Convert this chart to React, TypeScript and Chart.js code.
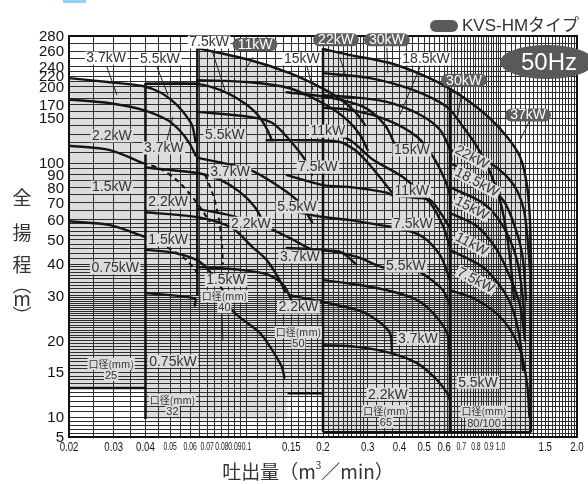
import React, { useEffect, useRef } from 'react';
import { Chart, registerables } from 'chart.js';

Chart.register(...registerables);

// ---------- axis labels ----------
const xTickValues = [0.02, 0.03, 0.04, 0.05, 0.06, 0.07, 0.08, 0.09, 0.1, 0.15, 0.2, 0.3, 0.4, 0.5, 0.6, 0.7, 0.8, 0.9, 1.0, 1.5, 2.0];
const xTickTexts = ['0.02', '0.03', '0.04', '0.05', '0.06', '0.07', '0.08', '0.09', '0.1', '0.15', '0.2', '0.3', '0.4', '0.5', '0.6', '0.7', '0.8', '0.9', '1.0', '1.5', '2.0'];
const xTickSmall = [false, false, false, true, true, true, true, true, true, false, false, false, false, false, false, true, true, true, true, false, false];
const yTickValues = [280, 260, 240, 220, 200, 170, 150, 100, 90, 80, 70, 60, 50, 40, 30, 20, 15, 10, 5];

// ---------- curves (吐出量 m3/min, 全揚程 m) ----------
// 口径25mm
const c25_37 = [[0.02, 216], [0.029, 208], [0.039, 201], [0.0456, 190], [0.0513, 175], [0.056, 160], [0.061, 141], [0.063, 121]];
const c25_22 = [[0.02, 178], [0.029, 172], [0.039, 162], [0.0486, 148], [0.0547, 134], [0.0598, 119], [0.063, 107]];
const c25_15 = [[0.02, 117], [0.029, 112.5], [0.039, 100]];
const c25_15ext = [[0.039, 100], [0.0456, 95], [0.0536, 85], [0.0626, 71.5], [0.0718, 58.6]];
const c25_075 = [[0.02, 59], [0.029, 57], [0.039, 51.6]];
const c25_075ext = [[0.039, 51.6], [0.0477, 47], [0.0572, 42], [0.0656, 36]];
const limitDashed = [[0.0686, 90], [0.0738, 75], [0.0779, 60], [0.08, 47.6], [0.0807, 39.7]];
// 口径32mm
const c32_55 = [[0.04, 205], [0.064, 205], [0.0786, 194], [0.094, 177], [0.108, 159], [0.118, 141], [0.126, 123]];
const c32_37 = [[0.04, 96], [0.0656, 91], [0.0786, 86], [0.094, 77], [0.108, 67], [0.118, 57]];
const c32_22 = [[0.04, 64], [0.0656, 61], [0.0876, 55.5], [0.1055, 46.7], [0.12, 41.5], [0.135, 34.6], [0.142, 31]];
const c32_15 = [[0.04, 45.5], [0.052, 44.3], [0.0656, 40.8], [0.0786, 33], [0.0876, 26.4], [0.113, 21.4], [0.126, 18.4], [0.1375, 15.8], [0.141, 14.3]];
const c32_075 = [[0.04, 30.8], [0.0626, 29.3], [0.0626, 27.5]];
// 口径40mm
const c40_11 = [[0.064, 264], [0.103, 248.5], [0.148, 226], [0.195, 199], [0.233, 179], [0.268, 159], [0.293, 141]];
const c40_75 = [[0.064, 212], [0.103, 208], [0.148, 197], [0.2, 172], [0.245, 150], [0.28, 129], [0.3, 112.5]];
const c40_55 = [[0.064, 159], [0.103, 152], [0.126, 144], [0.148, 123], [0.17, 103], [0.181, 90]];
const c40_37 = [[0.064, 105], [0.103, 94], [0.135, 80.4], [0.162, 69.6], [0.181, 58.6]];
const c40_22 = [[0.064, 66], [0.0876, 62], [0.12, 56], [0.152, 50], [0.183, 45.5], [0.233, 44.8], [0.27, 40]];
const c40_15 = [[0.064, 39], [0.094, 38], [0.12, 36.5], [0.14, 33], [0.15, 29]];
// 口径50mm
const c50_15 = [[0.144, 190], [0.213, 181], [0.29, 166], [0.351, 141], [0.384, 118]];
const c50_11 = [[0.12, 123], [0.172, 123], [0.233, 121], [0.267, 112.5], [0.293, 103], [0.335, 88], [0.374, 76.5]];
const c50_75 = [[0.144, 89.7], [0.2, 81.9], [0.256, 80.4], [0.357, 76.5], [0.374, 74.8], [0.46, 73], [0.528, 71.5], [0.578, 64], [0.632, 55.5]];
const c50_55 = [[0.144, 65.3], [0.2, 61.3], [0.256, 59.6], [0.335, 57], [0.374, 56], [0.482, 52], [0.578, 43.4], [0.632, 34.6]];
const c50_37 = [[0.144, 46.3], [0.2, 45.5], [0.272, 42.7], [0.344, 38.9], [0.47, 37.5], [0.528, 35], [0.594, 31.5], [0.632, 27.6]];
const c50_22 = [[0.148, 30.2], [0.272, 26.4], [0.325, 24.1], [0.367, 21.4], [0.374, 17.9]];
// 口径65mm
const c65_a = [[0.2, 135], [0.256, 123], [0.315, 103], [0.413, 88], [0.528, 69.6], [0.594, 56.4], [0.632, 46.7]];
const c65_b = [[0.2, 185], [0.256, 182], [0.357, 174], [0.482, 155], [0.578, 135], [0.632, 112.5], [0.64, 103]];
const c65_c = [[0.2, 165], [0.256, 162], [0.357, 148], [0.469, 127], [0.542, 106], [0.604, 86], [0.632, 75]];
const c65_37 = [[0.2, 34.6], [0.28, 33.1], [0.384, 31], [0.469, 28.9], [0.542, 25.7], [0.616, 21.4], [0.632, 17.3]];
const c65_22 = [[0.2, 19.2], [0.272, 18.9], [0.367, 17.9], [0.469, 16.3], [0.562, 14], [0.616, 12.4], [0.632, 11.7]];
// 口径80/100mm
const c100_37 = [[0.2, 263], [0.256, 255], [0.367, 244.6], [0.495, 222], [0.616, 199], [0.758, 174], [0.909, 150], [1.06, 127], [1.193, 106], [1.271, 82], [1.306, 60], [1.318, 41.5]];
const c100_30 = [[0.2, 226], [0.306, 216], [0.452, 194], [0.616, 166], [0.712, 139], [0.808, 116], [0.909, 92], [0.995, 71.5], [1.06, 52], [1.109, 36], [1.13, 29]];
const c100_22 = [[0.632, 112.5], [0.758, 107.5], [0.909, 100], [1.041, 90], [1.161, 78], [1.237, 65], [1.271, 53], [1.306, 38]];
const c100_18 = [[0.632, 100], [0.808, 88], [1.023, 71.5], [1.161, 53], [1.226, 41.5], [1.259, 29]];
const c100_15 = [[0.632, 80.4], [0.853, 69.6], [1.023, 56.4], [1.161, 41.5], [1.226, 29], [1.248, 22]];
const c100_11 = [[0.632, 63.6], [0.808, 56.4], [0.968, 45.5], [1.089, 35.6], [1.193, 27.6], [1.248, 20]];
const c100_75 = [[0.632, 45.5], [0.853, 38.9], [1.023, 31.6], [1.12, 26.4], [1.193, 20.1], [1.226, 15.3]];
const c100_55 = [[0.632, 31.6], [0.808, 28.9], [1.023, 24.1], [1.193, 18.4], [1.271, 13.6], [1.3, 10]];

// ---------- region borders ----------
const b25Bottom = [[0.02, 13], [0.04, 13]];
const b32Top = [[0.04, 205], [0.064, 205]];
const b32Left = [[0.04, 205], [0.04, 9.5]];
const b40Left = [[0.064, 264], [0.064, 30]];
const b50Bottom = [[0.145, 12.4], [0.2, 12.4]];
const b65Left = [[0.2, 263], [0.2, 6.2]];
const bBottom = [[0.2, 6.2], [1.318, 6.2]];
const b100Left = [[0.632, 197], [0.632, 6.2]];
const b100Right = [[1.318, 41.5], [1.318, 6.2]];

// shaded operating envelope
const envQ = [0.02, 0.02, 0.029, 0.039, 0.04, 0.064, 0.064, 0.103, 0.148, 0.2, 0.2, 0.256, 0.367, 0.495, 0.616, 0.758, 0.909, 1.06, 1.193, 1.271, 1.306, 1.318, 1.318, 0.2, 0.2, 0.145, 0.145, 0.04, 0.04];
const envH = [13, 216, 208, 201, 205, 205, 264, 248.5, 226, 196, 263, 255, 244.6, 222, 199, 174, 150, 127, 106, 82, 60, 41.5, 6.2, 6.2, 12.4, 12.4, 9.5, 9.5, 13];

// ---------- leader lines ----------
const leaders = [
  [[0.0282, 239], [0.0309, 185]],
  [[0.0444, 239], [0.0491, 185]],
  [[0.0731, 261], [0.0822, 194]],
  [[0.106, 252], [0.0986, 232]],
  [[0.173, 240], [0.1826, 194]],
  [[0.233, 252], [0.249, 212]],
  [[0.357, 265], [0.36, 226]],
  [[0.482, 239], [0.402, 155]],
  [[0.711, 203], [0.674, 148]],
  [[1.306, 148], [1.193, 123]],
  [[0.0486, 123], [0.0513, 152]],
  [[0.08, 26], [0.0807, 20]],
];

// ---------- kW labels ----------
const kwText = ['3.7kW', '5.5kW', '7.5kW', '11kW', '15kW', '22kW', '30kW', '18.5kW', '30kW', '37kW',
  '2.2kW', '3.7kW', '5.5kW', '1.5kW', '2.2kW', '3.7kW', '1.5kW', '0.75kW', '5.5kW', '2.2kW', '3.7kW', '1.5kW', '2.2kW', '0.75kW',
  '7.5kW', '11kW', '15kW', '11kW', '7.5kW', '5.5kW', '3.7kW', '2.2kW', '5.5kW',
  '22kW', '18.5kW', '15kW', '11kW', '7.5kW'];
const kwQ = [0.028, 0.0456, 0.0712, 0.108, 0.165, 0.225, 0.357, 0.509, 0.718, 1.283,
  0.0295, 0.0473, 0.0822, 0.0295, 0.0491, 0.0861, 0.0491, 0.0304, 0.158, 0.104, 0.162, 0.083, 0.16, 0.0513,
  0.191, 0.209, 0.448, 0.448, 0.452, 0.424, 0.473, 0.36, 0.815,
  0.772, 0.808, 0.772, 0.772, 0.8];
const kwH = [251, 250, 272, 269, 250, 275, 275, 250, 212, 154.5,
  128, 114.6, 129, 80.4, 70.2, 92.2, 49.8, 38.6, 67.1, 58, 42.7, 34.6, 27.1, 16.6,
  96.5, 133.6, 112.5, 77.6, 57.5, 39.3, 20.4, 12.3, 13.7,
  105.6, 84.2, 66.5, 48, 34.6];
const kwKind = ['w', 'w', 'w', 'd', 'w', 'd', 'd', 'w', 'd', 'd',
  'g', 'g', 'g', 'g', 'g', 'g', 'g', 'g', 'g', 'g', 'g', 'g', 'g', 'g',
  'g', 'g', 'g', 'g', 'g', 'g', 'g', 'g', 'g',
  'r', 'r', 'r', 'r', 'r'];

// 口径 labels
const boreText = ['25', '32', '40', '50', '65', '80/100'];
const boreQ = [0.0293, 0.0511, 0.0818, 0.16, 0.354, 0.861];
const boreH = [16.2, 11.7, 29.9, 21.6, 10.56, 10.5];

// ---------- scale helpers ----------
function hpos(h: number) {
  if (h >= 240) return Math.log10(240) + (h - 240) * 0.003;
  if (h <= 10) return 1 - (10 - h) * 0.0157;
  return Math.log10(h);
}
function range(a: number, b: number, s: number) {
  const out: number[] = [];
  for (let v = a; v <= b + 1e-9; v += s) out.push(+v.toFixed(4));
  return out;
}
const xGrid = [...range(0.02, 0.1, 0.005), ...range(0.11, 0.3, 0.01), ...range(0.325, 0.6, 0.025), ...range(0.62, 1.0, 0.02), ...range(1.05, 2.0, 0.05)];
const yGrid = [...range(5, 10, 1), ...range(10.5, 30, 0.5), ...range(31, 40, 1), ...range(42, 60, 2), ...range(65, 100, 5), ...range(110, 280, 10)];

const SANS = '"Liberation Sans", Arial, sans-serif';
const CJK = '"Noto Sans CJK JP", "Noto Sans", sans-serif';
const GRAY = '#dcdcdc';

const solid = [c25_37, c25_22, c25_15, c25_075, c32_55, c32_37, c32_22, c32_15, c32_075,
  c40_11, c40_75, c40_55, c40_37, c40_22, c40_15,
  c50_15, c50_11, c50_75, c50_55, c50_37, c50_22,
  c65_a, c65_b, c65_c, c65_37, c65_22,
  c100_37, c100_30, c100_22, c100_18, c100_15, c100_11, c100_75, c100_55];
const dashed = [c25_15ext, c25_075ext, limitDashed];
const borders = [b25Bottom, b32Top, b32Left, b40Left, b50Bottom, b65Left, bBottom, b100Left, b100Right];

function toXY(pts: number[][]) {
  return pts.map(([q, h]) => ({ x: q, y: hpos(h) }));
}

function buildDatasets() {
  const ds: any[] = [];
  borders.forEach((p) => ds.push({ data: toXY(p), borderColor: '#111', borderWidth: 2.5, pointRadius: 0, tension: 0, fill: false }));
  leaders.forEach((p) => ds.push({ data: toXY(p), borderColor: '#222', borderWidth: 1, pointRadius: 0, tension: 0, fill: false }));
  dashed.forEach((p) => ds.push({ data: toXY(p), borderColor: '#151515', borderWidth: 2, borderDash: [5, 4], pointRadius: 0, tension: 0.3, fill: false }));
  solid.forEach((p) => ds.push({ data: toXY(p), borderColor: '#151515', borderWidth: 2.4, pointRadius: 0, tension: 0.3, fill: false, borderCapStyle: 'round' }));
  return ds;
}

function roundRect(ctx: CanvasRenderingContext2D, x: number, y: number, w: number, h: number, r: number) {
  ctx.beginPath();
  ctx.moveTo(x + r, y);
  ctx.lineTo(x + w - r, y);
  ctx.arc(x + w - r, y + r, r, -Math.PI / 2, 0);
  ctx.lineTo(x + w, y + h - r);
  ctx.arc(x + w - r, y + h - r, r, 0, Math.PI / 2);
  ctx.lineTo(x + r, y + h);
  ctx.arc(x + r, y + h - r, r, Math.PI / 2, Math.PI);
  ctx.lineTo(x, y + r);
  ctx.arc(x + r, y + r, r, Math.PI, Math.PI * 1.5);
  ctx.closePath();
}

const regionPlugin = {
  id: 'regionFill',
  beforeDraw(chart: any) {
    const { ctx } = chart;
    const xs = chart.scales.x, ys = chart.scales.y;
    ctx.save();
    ctx.beginPath();
    envQ.forEach((q, i) => {
      const px = xs.getPixelForValue(q), py = ys.getPixelForValue(hpos(envH[i]));
      if (i === 0) ctx.moveTo(px, py); else ctx.lineTo(px, py);
    });
    ctx.closePath();
    ctx.fillStyle = GRAY;
    ctx.fill();
    ctx.restore();
  },
  beforeDatasetsDraw(chart: any) {
    const { ctx, chartArea: a } = chart;
    ctx.save();
    ctx.strokeStyle = '#111';
    ctx.lineWidth = 2;
    ctx.strokeRect(a.left, a.top, a.right - a.left, a.bottom - a.top);
    ctx.restore();
  },
};

const annotPlugin = {
  id: 'annot',
  afterDraw(chart: any) {
    const { ctx, chartArea: a } = chart;
    const xs = chart.scales.x, ys = chart.scales.y;
    ctx.save();
    // title remnant
    ctx.fillStyle = '#8fd4f2';
    ctx.fillRect(63, 0, 23, 3);

    // y ticks
    ctx.fillStyle = '#111';
    ctx.font = `15px ${SANS}`;
    ctx.textAlign = 'right';
    ctx.textBaseline = 'middle';
    yTickValues.forEach((v) => {
      ctx.fillText(String(v), 64, ys.getPixelForValue(hpos(v)) + 1);
    });
    // x ticks
    xTickValues.forEach((v, i) => {
      const px = xs.getPixelForValue(v);
      ctx.save();
      ctx.translate(px, a.bottom + 10);
      if (xTickSmall[i]) { ctx.scale(0.62, 1); ctx.font = `11px ${SANS}`; }
      else { ctx.scale(0.74, 1); ctx.font = `13px ${SANS}`; }
      ctx.textAlign = 'center';
      ctx.textBaseline = 'middle';
      ctx.fillStyle = '#111';
      ctx.fillText(xTickTexts[i], 0, 0);
      ctx.restore();
    });

    // axis titles
    ctx.fillStyle = '#333';
    ctx.font = `19px ${CJK}`;
    ctx.textAlign = 'center';
    ctx.textBaseline = 'middle';
    const yChars = ['全', '揚', '程', '︵', 'm', '︶'];
    const yPos = [198, 233, 265, 285, 299, 316];
    yChars.forEach((c, i) => ctx.fillText(c, 22, yPos[i]));

    const p1 = '吐出量（m', p2 = '3', p3 = '／min）';
    ctx.font = `19px ${CJK}`;
    const w1 = ctx.measureText(p1).width;
    const w3 = ctx.measureText(p3).width;
    ctx.font = `10px ${CJK}`;
    const w2 = ctx.measureText(p2).width;
    let sx = 308 - (w1 + w2 + w3) / 2;
    ctx.textAlign = 'left';
    ctx.font = `19px ${CJK}`;
    ctx.fillText(p1, sx, 472);
    ctx.font = `10px ${CJK}`;
    ctx.fillText(p2, sx + w1, 465);
    ctx.font = `19px ${CJK}`;
    ctx.fillText(p3, sx + w1 + w2, 472);

    // kW labels
    kwText.forEach((t, i) => {
      const cx = xs.getPixelForValue(kwQ[i]);
      const cy = ys.getPixelForValue(hpos(kwH[i]));
      const k = kwKind[i];
      ctx.font = `14px ${SANS}`;
      ctx.textAlign = 'center';
      ctx.textBaseline = 'middle';
      const w = ctx.measureText(t).width;
      if (k === 'd') {
        ctx.fillStyle = '#5e5e5e';
        roundRect(ctx, cx - w / 2 - 5, cy - 6.5, w + 10, 13, 6.5);
        ctx.fill();
        ctx.fillStyle = '#fff';
        ctx.fillText(t, cx, cy + 0.5);
      } else if (k === 'r') {
        ctx.save();
        ctx.translate(cx, cy);
        ctx.rotate((28 * Math.PI) / 180);
        ctx.fillStyle = GRAY;
        ctx.fillRect(-w / 2 - 1.5, -6.5, w + 3, 13);
        ctx.fillStyle = '#333';
        ctx.fillText(t, 0, 0.5);
        ctx.restore();
      } else {
        ctx.fillStyle = k === 'w' ? '#fff' : GRAY;
        ctx.fillRect(cx - w / 2 - 1.5, cy - 6.5, w + 3, 13);
        ctx.fillStyle = '#333';
        ctx.fillText(t, cx, cy + 0.5);
      }
    });

    // bore labels
    boreText.forEach((t, i) => {
      const cx = xs.getPixelForValue(boreQ[i]);
      const cy = ys.getPixelForValue(hpos(boreH[i]));
      ctx.font = `10px ${CJK}`;
      const lab = '口径(mm)';
      const w = ctx.measureText(lab).width;
      ctx.font = `11px ${SANS}`;
      const w2 = ctx.measureText(t).width;
      ctx.fillStyle = GRAY;
      ctx.fillRect(cx - w / 2 - 1, cy - 6, w + 2, 12);
      ctx.fillRect(cx - w2 / 2 - 1, cy + 6, w2 + 2, 11);
      ctx.fillStyle = '#333';
      ctx.textAlign = 'center';
      ctx.textBaseline = 'middle';
      ctx.font = `10px ${CJK}`;
      ctx.fillText(lab, cx, cy);
      ctx.font = `11px ${SANS}`;
      ctx.fillText(t, cx, cy + 12);
    });

    // legend
    ctx.fillStyle = '#5a5a5a';
    roundRect(ctx, 430, 20, 28, 12, 6);
    ctx.fill();
    ctx.fillStyle = '#333';
    ctx.font = `17px ${SANS}, ${CJK}`;
    ctx.textAlign = 'left';
    ctx.textBaseline = 'middle';
    ctx.fillText('KVS-HMタイプ', 462, 26);

    // 50Hz badge
    ctx.fillStyle = '#595959';
    ctx.beginPath();
    ctx.ellipse(547, 62, 47, 17, 0, 0, Math.PI * 2);
    ctx.fill();
    ctx.fillStyle = '#fff';
    ctx.font = `24px ${SANS}`;
    ctx.textAlign = 'center';
    ctx.fillText('50Hz', 549, 63);
    ctx.restore();
  },
};

export default function App() {
  const ref = useRef<HTMLCanvasElement>(null);
  useEffect(() => {
    const canvas = ref.current;
    if (!canvas) return;
    const chart = new Chart(canvas, {
      type: 'line',
      data: { datasets: buildDatasets() },
      options: {
        responsive: false,
        animation: false,
        devicePixelRatio: 1,
        events: [],
        layout: { padding: { left: 0, right: 11, top: 36, bottom: 0 } },
        plugins: { legend: { display: false }, tooltip: { enabled: false } },
        scales: {
          x: {
            type: 'logarithmic',
            min: 0.02,
            max: 2,
            afterBuildTicks: (s: any) => { s.ticks = xGrid.map((v) => ({ value: v })); },
            afterFit: (s: any) => { s.height = 47; },
            ticks: { display: false },
            grid: { color: '#2e2e2e', lineWidth: 1, drawTicks: false },
            border: { display: false },
          },
          y: {
            type: 'linear',
            min: hpos(5),
            max: hpos(280),
            afterBuildTicks: (s: any) => { s.ticks = yGrid.map((h) => ({ value: hpos(h) })); },
            afterFit: (s: any) => { s.width = 69; },
            ticks: { display: false },
            grid: { color: '#2e2e2e', lineWidth: 1, drawTicks: false },
            border: { display: false },
          },
        },
      } as any,
      plugins: [regionPlugin, annotPlugin],
    });
    return () => chart.destroy();
  }, []);
  return (
    <div style={{ position: 'fixed', left: 0, top: 0, width: 588, height: 484, background: '#fff' }}>
      <canvas ref={ref} width={588} height={484} style={{ display: 'block', width: 588, height: 484 }} />
    </div>
  );
}
